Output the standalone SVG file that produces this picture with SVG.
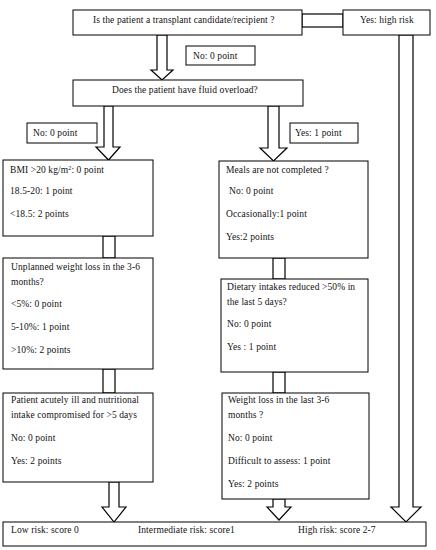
<svg xmlns="http://www.w3.org/2000/svg" width="436" height="550" viewBox="0 0 436 550">
<style>
.box{fill:#fff;stroke:#000;stroke-width:1}
.con{fill:#fff;stroke:#000;stroke-width:1.2;stroke-linejoin:miter}
text{font-family:"Liberation Serif","Times New Roman",serif;font-size:9.5px;letter-spacing:0.1px;fill:#111}
</style>
<rect width="436" height="550" fill="#fff"/>
<g id="connectors">
<rect class="con" x="302" y="14" width="41" height="13"/>
<path class="con" d="M157,35 L167,35 L167,70 L173,70 L162,80 L151,70 L157,70 Z"/>
<path class="con" d="M104,106 L113,106 L113,147 L120,147 L108.5,160 L96,147 L104,147 Z"/>
<path class="con" d="M268,106 L279,106 L279,148 L287,148 L273.5,161 L260,148 L268,148 Z"/>
<path class="con" d="M399,35 L413,35 L413,507 L421,507 L406,522 L391,507 L399,507 Z"/>
<rect class="con" x="103" y="236" width="12" height="22"/>
<rect class="con" x="103" y="369" width="12" height="24"/>
<path class="con" d="M109,482 L119,482 L119,507 L126,507 L114,522 L102,507 L109,507 Z"/>
<rect class="con" x="273" y="258" width="12" height="21"/>
<rect class="con" x="273" y="372" width="12" height="21"/>
<path class="con" d="M273,499 L285,499 L285,507 L291,507 L279,520 L267,507 L273,507 Z"/>
</g>
<g id="q1"><rect class="box" x="73" y="10" width="229" height="25"/><text x="93" y="23">Is the patient a transplant candidate/recipient ?</text></g>
<g id="yes-high"><rect class="box" x="343" y="10" width="87" height="25"/><text x="360" y="23">Yes: high risk</text></g>
<g id="no0-top"><rect class="box" x="186" y="46" width="69" height="19"/><text x="193" y="59">No: 0 point</text></g>
<g id="q2"><rect class="box" x="73" y="80" width="230" height="26"/><text x="112" y="93">Does the patient have fluid overload?</text></g>
<g id="no0-left"><rect class="box" x="27" y="123" width="70" height="20"/><text x="33" y="136">No: 0 point</text></g>
<g id="yes1"><rect class="box" x="290" y="123" width="68" height="20"/><text x="295" y="136">Yes: 1 point</text></g>
<g id="bmi"><rect class="box" x="3" y="160" width="150" height="76"/>
<text x="10" y="173">BMI &gt;20 kg/m<tspan font-size="6" dy="-3">2</tspan><tspan dy="3">: 0 point</tspan></text>
<text x="10" y="194">18.5-20: 1 point</text>
<text x="10" y="217">&lt;18.5: 2 points</text></g>
<g id="weightloss"><rect class="box" x="3" y="258" width="150" height="111"/>
<text x="11" y="270">Unplanned weight loss in the 3-6</text>
<text x="11" y="285">months?</text>
<text x="11" y="307">&lt;5%: 0 point</text>
<text x="11" y="330">5-10%: 1 point</text>
<text x="11" y="353">&gt;10%: 2 points</text></g>
<g id="acute"><rect class="box" x="3" y="393" width="150" height="89"/>
<text x="11" y="403">Patient acutely ill and nutritional</text>
<text x="11" y="418">intake compromised for &gt;5 days</text>
<text x="11" y="441">No: 0 point</text>
<text x="11" y="464">Yes: 2 points</text></g>
<g id="meals"><rect class="box" x="219" y="161" width="149" height="97"/>
<text x="226" y="173">Meals are not completed ?</text>
<text x="229" y="194">No: 0 point</text>
<text x="226" y="217">Occasionally:1 point</text>
<text x="226" y="240">Yes:2 points</text></g>
<g id="dietary"><rect class="box" x="221" y="279" width="147" height="93"/>
<text x="227" y="290">Dietary intakes reduced &gt;50% in</text>
<text x="227" y="305">the last 5 days?</text>
<text x="227" y="327">No: 0 point</text>
<text x="227" y="350">Yes : 1 point</text></g>
<g id="wl36"><rect class="box" x="222" y="393" width="147" height="106"/>
<text x="228" y="403">Weight loss in the last 3-6</text>
<text x="228" y="418">months ?</text>
<text x="228" y="441">No: 0 point</text>
<text x="228" y="464">Difficult to assess: 1 point</text>
<text x="228" y="487">Yes: 2 points</text></g>
<g id="result"><rect class="box" x="3" y="522" width="423" height="24"/>
<text x="11" y="533">Low risk: score 0</text>
<text x="138" y="533">Intermediate risk: score1</text>
<text x="298" y="533">High risk: score 2-7</text></g>
</svg>
